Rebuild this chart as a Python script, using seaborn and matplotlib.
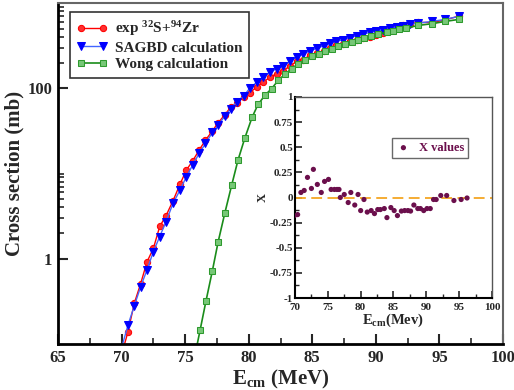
import matplotlib
matplotlib.use("Agg")
import matplotlib.pyplot as plt
import seaborn as sns
import pandas as pd
from matplotlib.ticker import FixedLocator, FuncFormatter, MultipleLocator, NullFormatter

# ---------------- data ----------------
e_exp = [70.0, 70.5, 71.0, 71.5, 72.0, 72.5, 73.0, 73.5, 74.05, 74.6, 75.1, 75.6, 76.1, 76.6,
         77.15, 77.6, 78.1, 78.6, 79.05, 79.6, 80.1, 80.65, 81.15, 81.7, 82.2, 82.7, 83.25,
         83.8, 84.3, 84.8, 85.35, 85.9, 86.4, 86.9, 87.45, 87.95, 88.5, 89.0, 89.55, 90.05,
         90.6, 91.1, 91.65, 92.15, 92.7, 93.3, 94.4, 95.4, 96.5]
sig_exp = [0.075, 0.138, 0.30, 0.51, 0.92, 1.32, 2.39, 3.21, 4.8, 7.5, 11.0, 14.1, 18.8, 24.6,
           31.7, 39.4, 48.4, 60.4, 66.3, 79.0, 89.0, 104, 118, 136, 148, 160, 183,
           208, 212, 248, 258, 275, 296, 318, 326, 362, 370, 388, 398, 420,
           440, 495, 512, 552, 570, 592, 590, 630, 700]
sig_sagbd = [0.09, 0.166, 0.28, 0.47, 0.74, 1.21, 1.82, 2.73, 4.48, 6.4, 9.2, 12.6, 17.2, 22.5,
             30.4, 36.8, 46.9, 57.6, 69.2, 80.9, 101, 118, 135, 155, 170, 181, 207,
             232, 255, 273, 294, 316, 338, 355, 371, 392, 413, 432, 452, 468,
             486, 503, 521, 541, 561, 580, 608, 641, 695]

e_wong = [75.65, 76.17, 76.64, 77.14, 77.6, 78.13, 78.66, 79.16, 79.7, 80.26, 80.73, 81.28,
          81.8, 82.33, 82.85, 83.38, 83.9, 84.43, 84.95, 85.5, 86.0, 86.53, 87.05, 87.57,
          88.1, 88.6, 89.1, 89.65, 90.2, 90.85, 91.37, 91.84, 92.37, 93.34, 94.4, 95.44, 96.5]
sig_wong = [0.06, 0.144, 0.32, 0.72, 1.59, 3.48, 7.3, 14.4, 26.2, 45.4, 64.5, 82.8,
            99, 124, 146, 170, 194, 217, 237, 254, 273, 291, 310, 330,
            352, 372, 392, 410, 428, 456, 468, 490, 507, 546, 571, 608, 641]

e_x = [69.9, 70.4, 70.9, 71.4, 71.9, 72.5, 72.8, 73.4, 74.0, 74.5, 75.1, 75.5, 76.0, 76.4,
       76.7, 76.9, 77.5, 78.1, 78.5, 79.1, 79.6, 80.0, 80.5, 81.0, 81.6, 82.1, 82.6, 83.0,
       83.6, 84.0, 84.6, 85.1, 85.6, 86.2, 86.7, 87.2, 87.6, 88.1, 88.7, 89.1, 89.6, 90.1,
       90.6, 91.1, 91.5, 92.2, 93.1, 94.2, 95.3, 96.2]
x_vals = [-0.18, -0.17, 0.05, 0.07, 0.2, 0.09, 0.28, 0.13, 0.05, 0.16, 0.18, 0.08, 0.08, 0.08,
          0.08, 0.0, 0.03, -0.05, 0.05, -0.075, 0.03, -0.13, -0.02, -0.145, -0.13, -0.16, -0.12, -0.12,
          -0.11, -0.2, -0.1, -0.13, -0.18, -0.135, -0.13, -0.13, -0.135, -0.075, -0.11, -0.11, -0.13, -0.11,
          -0.11, -0.02, -0.02, 0.02, 0.02, -0.03, -0.02, -0.005]

main_xticks = [65, 70, 75, 80, 85, 90, 95, 100]
main_yticks = [1, 100]
inset_xticks = [70, 75, 80, 85, 90, 95, 100]
inset_yticks = [-1, -0.75, -0.5, -0.25, 0, 0.25, 0.5, 0.75, 1]

# ---------------- style ----------------
sns.set_style("ticks")
plt.rcParams['font.family'] = ['Liberation Serif', 'DejaVu Serif']
plt.rcParams['font.weight'] = 'bold'
plt.rcParams['axes.labelweight'] = 'bold'
plt.rcParams['mathtext.fontset'] = 'custom'
plt.rcParams['mathtext.rm'] = 'Liberation Serif:bold'
plt.rcParams['mathtext.it'] = 'Liberation Serif:bold'
plt.rcParams['mathtext.bf'] = 'Liberation Serif:bold'

fig = plt.figure(figsize=(5.14, 3.90), dpi=100)
ax = fig.add_axes([58/514, 1-344/390, 445/514, 341/390])

df_exp = pd.DataFrame({"E": e_exp, "exp": sig_exp, "sagbd": sig_sagbd})
df_wong = pd.DataFrame({"E": e_wong, "wong": sig_wong})

sns.lineplot(data=df_exp, x="E", y="exp", ax=ax, color="red", lw=1.0, marker="o",
             markersize=4.5, markerfacecolor="#ff3030", markeredgecolor="red",
             label=r"exp $^{32}$S+$^{94}$Zr", sort=False)
sns.lineplot(data=df_exp, x="E", y="sagbd", ax=ax, color="#4466ff", lw=1.0, marker="v",
             markersize=6, markerfacecolor="#0000ff", markeredgecolor="#0000ff",
             label="SAGBD calculation", sort=False)
sns.lineplot(data=df_wong, x="E", y="wong", ax=ax, color="#1a8c1a", lw=1.2, marker="s",
             markersize=4, markerfacecolor="#77c777", markeredgecolor="#2e9a2e",
             label="Wong calculation", sort=False)

ax.set_yscale("log")
ax.set_xlim(65, 100)
ax.set_ylim(0.1, 1000)
ax.xaxis.set_major_locator(FixedLocator(main_xticks))
ax.xaxis.set_minor_locator(MultipleLocator(2.5))
ax.yaxis.set_major_locator(FixedLocator(main_yticks))
ax.yaxis.set_major_formatter(FuncFormatter(lambda v, p: "%g" % v))
ax.yaxis.set_minor_locator(FixedLocator([2, 3, 4, 5, 6, 7, 8, 9, 10,
                                         200, 300, 400, 500, 600, 700, 800, 900]))
ax.yaxis.set_minor_formatter(NullFormatter())
ax.tick_params(axis="both", which="major", direction="in", length=7, width=1.5,
               labelsize=12, top=False, right=False, pad=4)
ax.tick_params(axis="both", which="minor", direction="in", length=4, width=1.2,
               top=False, right=False)
for lab in ax.get_xticklabels() + ax.get_yticklabels():
    lab.set_fontweight("bold")
for s in ["left", "bottom"]:
    ax.spines[s].set_linewidth(2)
    ax.spines[s].set_color("black")
for s in ["top", "right"]:
    ax.spines[s].set_linewidth(1.5)
    ax.spines[s].set_color("#666666")
ax.set_xlabel(r"E$_{\mathrm{cm}}$ (MeV)", fontsize=15, fontweight="bold", labelpad=2)
ax.set_ylabel("Cross section (mb)", fontsize=15, fontweight="bold", labelpad=2)

leg = ax.legend(loc="upper left", bbox_to_anchor=(0.027, 0.973), numpoints=2,
                prop={"family": "Liberation Serif", "weight": "bold", "size": 11},
                frameon=True, fancybox=False, edgecolor="black", handlelength=2.0,
                handletextpad=0.5, borderpad=0.45, labelspacing=0.2, borderaxespad=0)
leg.get_frame().set_linewidth(1.2)

# ---------------- inset ----------------
ax2 = fig.add_axes([295/514, 1-298/390, 197/514, 201/390])
ax2.axhline(0, color="#f5a623", lw=1.3, ls=(0, (6, 3)), zorder=1)
df_x = pd.DataFrame({"E": e_x, "X": x_vals})
sns.scatterplot(data=df_x, x="E", y="X", ax=ax2, color="#6b0f4c", s=14, edgecolor="none",
                label="X values", zorder=3)
ax2.set_xlim(70, 100)
ax2.set_ylim(-1, 1)
ax2.xaxis.set_major_locator(FixedLocator(inset_xticks))
ax2.xaxis.set_minor_locator(MultipleLocator(2.5))
ax2.yaxis.set_major_locator(FixedLocator(inset_yticks))
ax2.yaxis.set_minor_locator(MultipleLocator(0.125))
fmt = FuncFormatter(lambda v, p: ("%g" % v).replace("\u2212", "-"))
ax2.xaxis.set_major_formatter(fmt)
ax2.yaxis.set_major_formatter(fmt)
ax2.tick_params(axis="both", which="major", direction="in", length=5, width=1.2,
                labelsize=8, top=False, right=False, pad=1.5)
ax2.tick_params(axis="x", which="major", pad=3.5)
ax2.tick_params(axis="both", which="minor", direction="in", length=3, width=1.0,
                top=False, right=False)
for lab in ax2.get_xticklabels() + ax2.get_yticklabels():
    lab.set_fontweight("bold")
for s in ["left", "bottom"]:
    ax2.spines[s].set_linewidth(1.5)
    ax2.spines[s].set_color("black")
for s in ["top", "right"]:
    ax2.spines[s].set_linewidth(1.0)
    ax2.spines[s].set_color("#555555")
ax2.set_xlabel(r"E$_{\mathrm{cm}}$(Mev)", fontsize=10.5, fontweight="bold", labelpad=0)
ax2.set_ylabel("X", fontsize=9, fontweight="bold", labelpad=1)
leg2 = ax2.legend(loc="upper left", bbox_to_anchor=(0.49, 0.795), markerscale=1.0,
                  prop={"family": "Liberation Serif", "weight": "bold", "size": 9},
                  frameon=True, fancybox=False, edgecolor="#444444", handletextpad=0.6,
                  borderpad=0.3, borderaxespad=0, handlelength=1.3)
leg2.get_frame().set_linewidth(1.0)
for t in leg2.get_texts():
    t.set_color("#6b0f4c")

fig.savefig("out.png", dpi=100)
